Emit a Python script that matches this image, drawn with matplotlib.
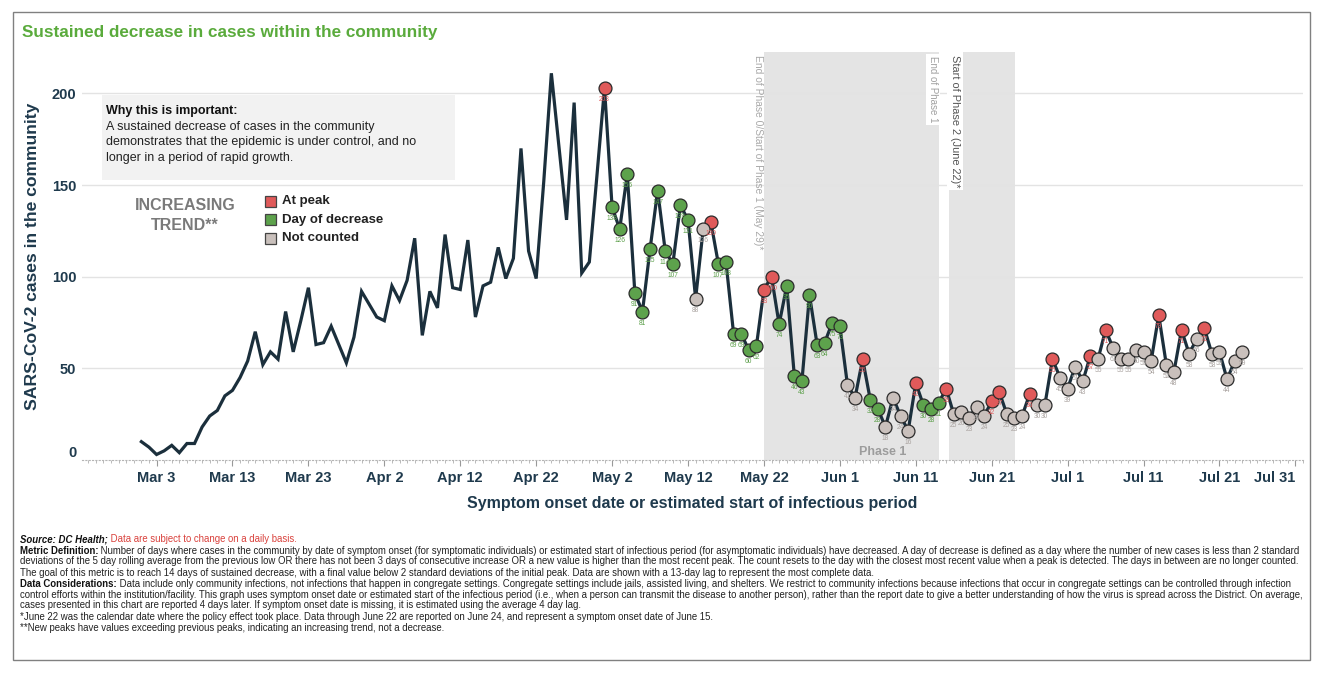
import matplotlib
matplotlib.use("Agg")
import matplotlib.pyplot as plt
import matplotlib.dates as mdates
from matplotlib.patches import Rectangle
import pandas as pd

plt.rcParams['font.family'] = ['Liberation Sans', 'DejaVu Sans']

# ---------------- data ----------------
start_date = "2020-03-01"
cases_mar = [10, 7, 3, 5, 8, 4, 9, 9, 18, 24, 27, 35, 38, 45, 54, 70, 52, 59, 55, 81,
             59, 76, 94, 63, 64, 73, 63, 53, 67, 92, 85]
cases_apr = [78, 76, 95, 87, 98, 121, 68, 92, 83, 123, 94, 93, 120, 78, 95, 97, 116, 99,
             110, 170, 114, 99, 152, 211, 171, 131, 195, 102, 108, 155]
cases_may = [203, 138, 126, 156, 91, 81, 115, 147, 114, 107, 139, 131, 88, 126, 130, 107,
             108, 69, 69, 60, 62, 93, 100, 74, 95, 46, 43, 90, 63, 64, 75]
cases_jun = [73, 41, 34, 55, 33, 28, 18, 34, 24, 16, 42, 30, 28, 31, 39, 25, 26, 23, 29,
             24, 32, 37, 25, 23, 24, 36, 30, 30, 55, 45]
cases_jul = [39, 51, 43, 57, 55, 71, 61, 55, 55, 60, 59, 54, 79, 52, 48, 71, 58, 66, 72,
             58, 59, 44, 54, 59]
# status codes: '-' none, 'P' at peak, 'D' day of decrease, 'N' not counted
status_mar_apr = "-" * 61
status_may = "PDDDDDDDDDDDNNPDDDDDDPPDDDDDDDD"
status_jun = "DNNPDDNNNNPDDDPNNNNNPPNNNPNNPN"
status_jul = "NNNPNPNNNNNNPNNPNNPNNNNN"

legend_labels = ["At peak", "Day of decrease", "Not counted"]
legend_codes = ["P", "D", "N"]
phase_bands = [("2020-05-22", "2020-06-14 02:00"), ("2020-06-15 08:00", "2020-06-24 02:00")]
y_ticks = [0, 50, 100, 150, 200]

cases = cases_mar + cases_apr + cases_may + cases_jun + cases_jul
status = list(status_mar_apr + status_may + status_jun + status_jul)
dates = pd.date_range(start_date, periods=len(cases), freq="D")
xnum = mdates.date2num(dates)

# ---------------- style ----------------
W, H = 1324, 678
LINE = "#1b2f3c"
AXC = "#1f3a4d"
FILL = {"P": "#e05a5a", "D": "#5da24c", "N": "#c9c0bc"}
TXT = {"P": "#e05a5a", "D": "#5a9e48", "N": "#a9a29f"}

fig = plt.figure(figsize=(W / 100, H / 100), dpi=100)
fig.patch.set_facecolor("white")
ax = fig.add_axes([82 / W, 1 - 460 / H, (1303 - 82) / W, (460 - 52) / H])

t0 = mdates.date2num(pd.Timestamp("2020-03-03"))
ax.set_xlim(t0 - 9.82, t0 + 150.65)
ax.set_ylim(0, 222.6)

for a, b in phase_bands:
    ax.axvspan(mdates.date2num(pd.Timestamp(a)), mdates.date2num(pd.Timestamp(b)),
               color="#e4e4e4", lw=0, zorder=0)

for v in y_ticks[1:]:
    ax.axhline(v, color="#e3e3e3", lw=1.0, zorder=0.5)

ax.plot(xnum, cases, color=LINE, lw=2.3, zorder=2, solid_joinstyle="miter")

for code in legend_codes:
    idx = [i for i, s in enumerate(status) if s == code]
    ax.plot([xnum[i] for i in idx], [cases[i] for i in idx], "o", ms=9.3,
            mfc=FILL[code], mec="#2b2b2b", mew=0.9, zorder=3, linestyle="none")
    for i in idx:
        ax.annotate(str(cases[i]), (xnum[i], cases[i]), xytext=(0, -8.3),
                    textcoords="offset points", ha="center", va="center",
                    fontsize=4.8, color=TXT[code], zorder=4)

# axes styling
for s in ["top", "right", "left"]:
    ax.spines[s].set_visible(False)
ax.spines["bottom"].set_color("#b5b5b5")
ax.spines["bottom"].set_linestyle((0, (1, 2)))
ax.set_yticks(y_ticks)
ax.tick_params(axis="y", length=0, pad=4, labelsize=10.5, labelcolor=AXC)
for lab in ax.get_yticklabels():
    lab.set_fontweight("bold")
ax.get_yticklabels()[0].set_va("bottom")

major = pd.date_range("2020-03-03", "2020-07-31", freq="10D")
ax.set_xticks(mdates.date2num(major))
ax.set_xticklabels([f"{d:%b} {d.day}" for d in major], fontweight="bold",
                   fontsize=10.5, color=AXC)
ax.set_xticks(mdates.date2num(pd.date_range("2020-02-23", "2020-08-01", freq="D")), minor=True)
ax.tick_params(axis="x", which="major", length=4, color="#999999", pad=4)
ax.tick_params(axis="x", which="minor", length=2, color="#b0b0b0")
ax.get_xticklabels()[-1].set_ha("right")

ax.set_ylabel("SARS-CoV-2 cases in the community", fontsize=12.6, fontweight="bold",
              color=AXC)
ax.yaxis.set_label_coords(-0.034, 0.5)
ax.set_xlabel("Symptom onset date or estimated start of infectious period", fontsize=11.5,
              fontweight="bold", color=AXC, labelpad=8)

# phase labels
b1s = mdates.date2num(pd.Timestamp(phase_bands[0][0]))
b1e = mdates.date2num(pd.Timestamp(phase_bands[0][1]))
b2s = mdates.date2num(pd.Timestamp(phase_bands[1][0]))
ax.annotate("End of Phase 0/Start of Phase 1 (May 29)*", (b1s, 1), xycoords=("data", "axes fraction"),
            xytext=(-4, -2), textcoords="offset points", rotation=270, ha="center", va="top",
            fontsize=7.4, color="#a9a9a9", zorder=5)
ax.annotate("End of Phase 1", (b1e, 1), xycoords=("data", "axes fraction"),
            xytext=(-4.5, -3), textcoords="offset points", rotation=270, ha="center", va="top",
            fontsize=7, color="#a0a0a0", zorder=5,
            bbox=dict(boxstyle="square,pad=0.25", fc="white", ec="none"))
ax.annotate("Start of Phase 2 (June 22)*", (b2s, 1), xycoords=("data", "axes fraction"),
            xytext=(4.5, -2), textcoords="offset points", rotation=270, ha="center", va="top",
            fontsize=7.9, color="#555555", zorder=5,
            bbox=dict(boxstyle="square,pad=0.25", fc="white", ec="none"))
ax.text(b1s + 15.6, 4.6, "Phase 1", ha="center", va="center", fontsize=9.0,
        fontweight="bold", color="#9c9c9c", zorder=1)

# ---------------- overlay in pixel coords ----------------
ov = fig.add_axes([0, 0, 1, 1], zorder=10)
ov.set_xlim(0, W)
ov.set_ylim(H, 0)
ov.axis("off")
ov.patch.set_alpha(0)

ov.add_patch(Rectangle((13, 12), 1297, 648, fill=False, ec="#808080", lw=1))
ov.text(22, 33, "Sustained decrease in cases within the community", fontsize=12.3,
        fontweight="bold", color="#5aab3c", va="center", ha="left")

ov.add_patch(Rectangle((102, 95), 353, 85, fc="#f2f2f2", ec="none"))
ov.text(106, 111, "Why this is important:", fontsize=9, fontweight="bold", color="#111111",
        va="center")
for k, line in enumerate(["A sustained decrease of cases in the community",
                          "demonstrates that the epidemic is under control, and no",
                          "longer in a period of rapid growth."]):
    ov.text(106, 127 + 15.5 * k, line, fontsize=9, color="#222222", va="center")

ov.text(185, 215.5, "INCREASING\nTREND**", fontsize=11.5, fontweight="bold", color="#7a7a7a",
        ha="center", va="center", linespacing=1.5)

for k, (lab, code) in enumerate(zip(legend_labels, legend_codes)):
    y = 201 + 18.5 * k
    ov.add_patch(Rectangle((265, y - 5.5), 11, 11, fc=FILL[code], ec="#444444", lw=0.9))
    ov.text(282, y, lab, fontsize=9.5, fontweight="bold", color="#222222", va="center")

# footnotes
foot = [
    ("Metric Definition:", " Number of days where cases in the community by date of symptom onset (for symptomatic individuals) or estimated start of infectious period (for asymptomatic individuals) have decreased. A day of decrease is defined as a day where the number of new cases is less than 2 standard"),
    ("", "deviations of the 5 day rolling average from the previous low OR there has not been 3 days of consecutive increase OR a new value is higher than the most recent peak. The count resets to the day with the closest most recent value when a peak is detected. The days in between are no longer counted."),
    ("", "The goal of this metric is to reach 14 days of sustained decrease, with a final value below 2 standard deviations of the initial peak. Data are shown with a 13-day lag to represent the most complete data."),
    ("Data Considerations:", " Data include only community infections, not infections that happen in congregate settings. Congregate settings include jails, assisted living, and shelters. We restrict to community infections because infections that occur in congregate settings can be controlled through infection"),
    ("", "control efforts within the institution/facility. This graph uses symptom onset date or estimated start of the infectious period (i.e., when a person can transmit the disease to another person), rather than the report date to give a better understanding of how the virus is spread across the District. On average,"),
    ("", "cases presented in this chart are reported 4 days later. If symptom onset date is missing, it is estimated using the average 4 day lag."),
    ("", "*June 22 was the calendar date where the policy effect took place. Data through June 22 are reported on June 24, and represent a symptom onset date of June 15."),
    ("", "**New peaks have values exceeding previous peaks, indicating an increasing trend, not a decrease."),
]
fy = [551, 561.5, 572.5, 584, 594.5, 605.5, 617, 628]

renderer = fig.canvas.get_renderer()
# fit font size so the longest line spans to the right border
fs = 6.3
probe = ov.text(20, 0, foot[0][0] + foot[0][1], fontsize=fs, va="center")
wpx = probe.get_window_extent(renderer).width
probe.remove()
fs = fs * 1275 / wpx


def two_part(x, y, a, b, fa, fb):
    if a:
        t = ov.text(x, y, a, va="center", **fa)
        x = t.get_window_extent(renderer).x1
    ov.text(x, y, b, va="center", **fb)


two_part(20, 539, "Source: DC Health;", " Data are subject to change on a daily basis.",
         dict(fontsize=fs, fontweight="bold", fontstyle="italic", color="#111111"),
         dict(fontsize=fs, color="#d9413c"))
for (a, b), y in zip(foot, fy):
    two_part(20, y, a, b, dict(fontsize=fs, fontweight="bold", color="#111111"),
             dict(fontsize=fs, color="#222222"))

fig.savefig("out.png", dpi=100, facecolor="white")
